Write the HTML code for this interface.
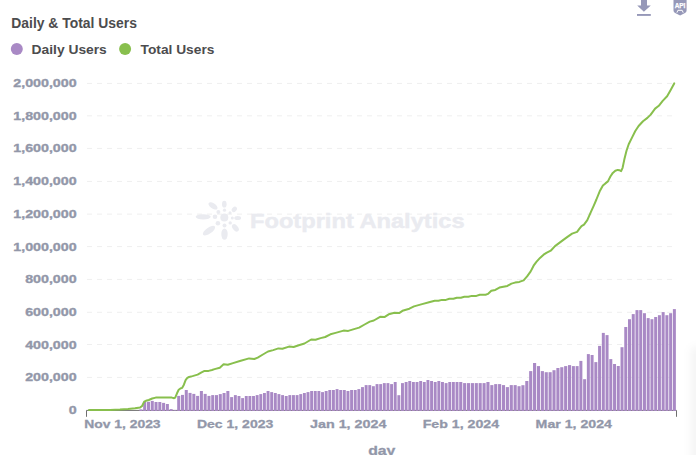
<!DOCTYPE html>
<html><head><meta charset="utf-8"><title>Daily &amp; Total Users</title>
<style>html,body{margin:0;padding:0;background:#fff;overflow:hidden}svg{display:block}text{font-family:"Liberation Sans",Arial,Helvetica,sans-serif;font-weight:bold}</style></head><body>
<svg width="696" height="455" viewBox="0 0 696 455">
<defs><linearGradient id="sh" x1="0" x2="1" y1="0" y2="0"><stop offset="0" stop-color="#000" stop-opacity="0"/><stop offset="1" stop-color="#000" stop-opacity="0.035"/></linearGradient><filter id="bl" x="-100%" y="-20%" width="300%" height="140%"><feGaussianBlur stdDeviation="4.5"/></filter></defs>
<rect width="696" height="455" fill="#fff"/>
<rect x="691" y="347" width="40" height="150" rx="4" fill="#000" fill-opacity="0.045" filter="url(#bl)"/>
<text x="11.3" y="27.9" font-size="14" fill="#4c4c4e" textLength="125.6" lengthAdjust="spacingAndGlyphs">Daily &amp; Total Users</text>
<circle cx="16.8" cy="49" r="6" fill="#a989c5"/>
<text x="31.6" y="54.4" font-size="13.3" fill="#4c4c4e" textLength="75.2" lengthAdjust="spacingAndGlyphs">Daily Users</text>
<circle cx="125.1" cy="49" r="6" fill="#88bf4d"/>
<text x="140.6" y="54.4" font-size="13.3" fill="#4c4c4e" textLength="73.8" lengthAdjust="spacingAndGlyphs">Total Users</text>
<g fill="#9698b8"><path d="M641 -2H647V5.5H650.8L643.9 11.8L637.2 5.5H641Z"/><rect x="637" y="14" width="13.8" height="1.9"/>
<path d="M673.5 -2H686.6V10.6Q686.6 12.3 685 13L680.1 15.5L675.1 13Q673.5 12.3 673.5 10.6Z"/></g>
<text x="674.7" y="8.1" font-size="7" fill="#fff" stroke="#fff" stroke-width="0.25" textLength="10.7" lengthAdjust="spacingAndGlyphs">API</text>
<path d="M676.9 12.7L677.9 10.3H682.2L683.2 12.7" fill="none" stroke="#fff" stroke-width="1"/>
<text transform="translate(76.6 414.45) scale(1.25 1)" text-anchor="end" font-size="11.4" fill="#9297a9" stroke="#9297a9" stroke-width="0.35">0</text>
<line x1="87" x2="677" y1="377.4" y2="377.4" stroke="#efefef" stroke-width="1" stroke-dasharray="5 5"/>
<text transform="translate(76.6 381.45) scale(1.25 1)" text-anchor="end" font-size="11.4" fill="#9297a9" stroke="#9297a9" stroke-width="0.35">200,000</text>
<line x1="87" x2="677" y1="344.5" y2="344.5" stroke="#efefef" stroke-width="1" stroke-dasharray="5 5"/>
<text transform="translate(76.6 348.55) scale(1.25 1)" text-anchor="end" font-size="11.4" fill="#9297a9" stroke="#9297a9" stroke-width="0.35">400,000</text>
<line x1="87" x2="677" y1="312.3" y2="312.3" stroke="#efefef" stroke-width="1" stroke-dasharray="5 5"/>
<text transform="translate(76.6 316.35) scale(1.25 1)" text-anchor="end" font-size="11.4" fill="#9297a9" stroke="#9297a9" stroke-width="0.35">600,000</text>
<line x1="87" x2="677" y1="279.4" y2="279.4" stroke="#efefef" stroke-width="1" stroke-dasharray="5 5"/>
<text transform="translate(76.6 283.45) scale(1.25 1)" text-anchor="end" font-size="11.4" fill="#9297a9" stroke="#9297a9" stroke-width="0.35">800,000</text>
<line x1="87" x2="677" y1="246.6" y2="246.6" stroke="#efefef" stroke-width="1" stroke-dasharray="5 5"/>
<text transform="translate(76.6 250.65) scale(1.25 1)" text-anchor="end" font-size="11.4" fill="#9297a9" stroke="#9297a9" stroke-width="0.35">1,000,000</text>
<line x1="87" x2="677" y1="214.1" y2="214.1" stroke="#efefef" stroke-width="1" stroke-dasharray="5 5"/>
<text transform="translate(76.6 218.15) scale(1.25 1)" text-anchor="end" font-size="11.4" fill="#9297a9" stroke="#9297a9" stroke-width="0.35">1,200,000</text>
<line x1="87" x2="677" y1="181.4" y2="181.4" stroke="#efefef" stroke-width="1" stroke-dasharray="5 5"/>
<text transform="translate(76.6 185.45) scale(1.25 1)" text-anchor="end" font-size="11.4" fill="#9297a9" stroke="#9297a9" stroke-width="0.35">1,400,000</text>
<line x1="87" x2="677" y1="148.4" y2="148.4" stroke="#efefef" stroke-width="1" stroke-dasharray="5 5"/>
<text transform="translate(76.6 152.45) scale(1.25 1)" text-anchor="end" font-size="11.4" fill="#9297a9" stroke="#9297a9" stroke-width="0.35">1,600,000</text>
<line x1="87" x2="677" y1="115.8" y2="115.8" stroke="#efefef" stroke-width="1" stroke-dasharray="5 5"/>
<text transform="translate(76.6 119.85) scale(1.25 1)" text-anchor="end" font-size="11.4" fill="#9297a9" stroke="#9297a9" stroke-width="0.35">1,800,000</text>
<line x1="87" x2="677" y1="83.4" y2="83.4" stroke="#efefef" stroke-width="1" stroke-dasharray="5 5"/>
<text transform="translate(76.6 87.45) scale(1.25 1)" text-anchor="end" font-size="11.4" fill="#9297a9" stroke="#9297a9" stroke-width="0.35">2,000,000</text>
<g fill="#eaebf0">
<circle cx="224.3" cy="217.4" r="4"/>
<circle cx="224.5" cy="210.2" r="1.6"/>
<circle cx="230" cy="212.8" r="1.5"/>
<circle cx="232.3" cy="218" r="1.5"/>
<circle cx="230.2" cy="222.9" r="1.7"/>
<circle cx="224.5" cy="225.5" r="2"/>
<circle cx="217.9" cy="223.2" r="2.3"/>
<circle cx="215" cy="216.8" r="2.3"/>
<circle cx="218.4" cy="212" r="2"/>
<ellipse cx="224.3" cy="204.2" rx="2.3" ry="3.4" transform="rotate(0 224.3 204.2)"/>
<ellipse cx="234.3" cy="209.4" rx="2.2" ry="3" transform="rotate(45 234.3 209.4)"/>
<ellipse cx="237.7" cy="218" rx="3.4" ry="2" transform="rotate(0 237.7 218)"/>
<ellipse cx="235.4" cy="227.8" rx="2.6" ry="4.3" transform="rotate(-40 235.4 227.8)"/>
<ellipse cx="224.5" cy="234.1" rx="3.2" ry="5.7" transform="rotate(0 224.5 234.1)"/>
<ellipse cx="209" cy="230.6" rx="7.2" ry="3" transform="rotate(-35 209 230.6)"/>
<ellipse cx="203.2" cy="216.8" rx="7.5" ry="2.6" transform="rotate(0 203.2 216.8)"/>
<ellipse cx="213" cy="205.9" rx="5.2" ry="2.7" transform="rotate(35 213 205.9)"/>
<text x="250" y="228.3" font-size="19.3" stroke="#eaebf0" stroke-width="0.4" textLength="214.6" lengthAdjust="spacingAndGlyphs">Footprint Analytics</text>
</g>
<path d="M86.5 416.8V410.4H676.5V416.8" fill="none" stroke="#6f6f6f" stroke-width="1"/>
<g fill="#a989c5">
<rect x="139.40" y="409.4" width="3.02" height="1.55"/>
<rect x="143.18" y="401.8" width="3.02" height="9.15"/>
<rect x="146.96" y="401.8" width="3.02" height="9.15"/>
<rect x="150.74" y="400.9" width="3.02" height="10.05"/>
<rect x="154.52" y="402.0" width="3.02" height="8.95"/>
<rect x="158.30" y="402.0" width="3.02" height="8.95"/>
<rect x="162.08" y="402.9" width="3.02" height="8.05"/>
<rect x="165.86" y="404.0" width="3.02" height="6.95"/>
<rect x="169.64" y="409.1" width="3.02" height="1.85"/>
<rect x="173.42" y="410.2" width="3.02" height="0.75"/>
<rect x="177.20" y="395.9" width="3.02" height="15.05"/>
<rect x="180.98" y="394.9" width="3.02" height="16.05"/>
<rect x="184.76" y="390.0" width="3.02" height="20.95"/>
<rect x="188.54" y="392.9" width="3.02" height="18.05"/>
<rect x="192.32" y="393.9" width="3.02" height="17.05"/>
<rect x="196.10" y="395.9" width="3.02" height="15.05"/>
<rect x="199.88" y="391.0" width="3.02" height="19.95"/>
<rect x="203.66" y="393.9" width="3.02" height="17.05"/>
<rect x="207.44" y="395.9" width="3.02" height="15.05"/>
<rect x="211.22" y="395.1" width="3.02" height="15.85"/>
<rect x="215.00" y="395.1" width="3.02" height="15.85"/>
<rect x="218.78" y="394.1" width="3.02" height="16.85"/>
<rect x="222.56" y="393.0" width="3.02" height="17.95"/>
<rect x="226.34" y="391.0" width="3.02" height="19.95"/>
<rect x="230.12" y="397.1" width="3.02" height="13.85"/>
<rect x="233.90" y="395.1" width="2.91" height="15.85"/>
<rect x="237.53" y="396.0" width="2.91" height="14.95"/>
<rect x="241.16" y="398.1" width="2.91" height="12.85"/>
<rect x="244.80" y="396.0" width="2.91" height="14.95"/>
<rect x="248.43" y="396.0" width="2.91" height="14.95"/>
<rect x="252.06" y="396.0" width="2.91" height="14.95"/>
<rect x="255.69" y="395.1" width="2.91" height="15.85"/>
<rect x="259.32" y="394.1" width="2.91" height="16.85"/>
<rect x="262.96" y="393.0" width="2.91" height="17.95"/>
<rect x="266.59" y="391.0" width="2.91" height="19.95"/>
<rect x="270.22" y="392.1" width="2.91" height="18.85"/>
<rect x="273.85" y="393.0" width="2.91" height="17.95"/>
<rect x="277.48" y="394.1" width="2.91" height="16.85"/>
<rect x="281.12" y="395.1" width="2.91" height="15.85"/>
<rect x="284.75" y="396.0" width="2.91" height="14.95"/>
<rect x="288.38" y="395.1" width="2.91" height="15.85"/>
<rect x="292.01" y="395.1" width="2.91" height="15.85"/>
<rect x="295.64" y="395.1" width="2.91" height="15.85"/>
<rect x="299.28" y="394.1" width="2.91" height="16.85"/>
<rect x="302.91" y="393.0" width="2.91" height="17.95"/>
<rect x="306.54" y="392.1" width="2.91" height="18.85"/>
<rect x="310.17" y="391.0" width="2.91" height="19.95"/>
<rect x="313.80" y="391.0" width="2.91" height="19.95"/>
<rect x="317.44" y="391.0" width="2.91" height="19.95"/>
<rect x="321.07" y="392.1" width="2.91" height="18.85"/>
<rect x="324.70" y="391.0" width="2.91" height="19.95"/>
<rect x="328.33" y="390.0" width="2.91" height="20.95"/>
<rect x="331.96" y="390.0" width="2.91" height="20.95"/>
<rect x="335.60" y="389.1" width="2.91" height="21.85"/>
<rect x="339.23" y="390.0" width="2.91" height="20.95"/>
<rect x="342.86" y="390.0" width="2.91" height="20.95"/>
<rect x="346.50" y="391.0" width="2.91" height="19.95"/>
<rect x="350.13" y="390.0" width="2.91" height="20.95"/>
<rect x="353.77" y="390.0" width="2.91" height="20.95"/>
<rect x="357.40" y="389.1" width="2.91" height="21.85"/>
<rect x="361.04" y="387.1" width="2.91" height="23.85"/>
<rect x="364.68" y="385.1" width="2.91" height="25.85"/>
<rect x="368.31" y="385.1" width="2.91" height="25.85"/>
<rect x="371.94" y="386.2" width="2.91" height="24.75"/>
<rect x="375.58" y="384.1" width="2.91" height="26.85"/>
<rect x="379.21" y="384.1" width="2.91" height="26.85"/>
<rect x="382.85" y="383.1" width="2.91" height="27.85"/>
<rect x="386.49" y="383.1" width="2.91" height="27.85"/>
<rect x="390.12" y="384.1" width="2.91" height="26.85"/>
<rect x="393.75" y="382.0" width="2.91" height="28.95"/>
<rect x="397.39" y="395.2" width="2.91" height="15.75"/>
<rect x="401.02" y="383.1" width="2.91" height="27.85"/>
<rect x="404.66" y="382.0" width="2.91" height="28.95"/>
<rect x="408.30" y="381.0" width="2.91" height="29.95"/>
<rect x="411.93" y="382.0" width="2.91" height="28.95"/>
<rect x="415.56" y="382.0" width="2.91" height="28.95"/>
<rect x="419.20" y="381.0" width="2.91" height="29.95"/>
<rect x="422.83" y="382.0" width="2.91" height="28.95"/>
<rect x="426.47" y="380.0" width="2.91" height="30.95"/>
<rect x="430.11" y="381.0" width="2.91" height="29.95"/>
<rect x="433.74" y="382.0" width="2.91" height="28.95"/>
<rect x="437.38" y="381.0" width="2.91" height="29.95"/>
<rect x="441.01" y="382.0" width="2.91" height="28.95"/>
<rect x="444.64" y="383.1" width="2.91" height="27.85"/>
<rect x="448.28" y="382.0" width="2.91" height="28.95"/>
<rect x="451.91" y="382.0" width="2.91" height="28.95"/>
<rect x="455.55" y="382.0" width="2.91" height="28.95"/>
<rect x="459.20" y="382.0" width="3.11" height="28.95"/>
<rect x="463.09" y="383.1" width="3.11" height="27.85"/>
<rect x="466.97" y="383.1" width="3.11" height="27.85"/>
<rect x="470.86" y="383.1" width="3.11" height="27.85"/>
<rect x="474.74" y="383.1" width="3.11" height="27.85"/>
<rect x="478.63" y="383.1" width="3.11" height="27.85"/>
<rect x="482.52" y="383.1" width="3.11" height="27.85"/>
<rect x="486.40" y="382.0" width="3.11" height="28.95"/>
<rect x="490.29" y="385.1" width="3.11" height="25.85"/>
<rect x="494.17" y="384.1" width="3.11" height="26.85"/>
<rect x="498.06" y="384.1" width="3.11" height="26.85"/>
<rect x="501.95" y="385.1" width="3.11" height="25.85"/>
<rect x="505.83" y="387.1" width="3.11" height="23.85"/>
<rect x="509.72" y="385.1" width="3.11" height="25.85"/>
<rect x="513.60" y="385.1" width="3.11" height="25.85"/>
<rect x="517.49" y="386.2" width="3.11" height="24.75"/>
<rect x="521.38" y="385.2" width="3.11" height="25.75"/>
<rect x="525.26" y="381.0" width="3.11" height="29.95"/>
<rect x="529.15" y="371.1" width="3.11" height="39.85"/>
<rect x="533.03" y="363.0" width="3.11" height="47.95"/>
<rect x="536.92" y="366.1" width="3.11" height="44.85"/>
<rect x="540.81" y="371.1" width="3.11" height="39.85"/>
<rect x="544.69" y="372.2" width="3.11" height="38.75"/>
<rect x="548.58" y="372.2" width="3.11" height="38.75"/>
<rect x="552.46" y="370.2" width="3.11" height="40.75"/>
<rect x="556.35" y="368.0" width="3.11" height="42.95"/>
<rect x="560.24" y="367.2" width="3.11" height="43.75"/>
<rect x="564.12" y="366.1" width="3.11" height="44.85"/>
<rect x="568.01" y="365.1" width="3.11" height="45.85"/>
<rect x="571.90" y="366.1" width="2.99" height="44.85"/>
<rect x="575.64" y="366.1" width="2.99" height="44.85"/>
<rect x="579.38" y="360.9" width="2.99" height="50.05"/>
<rect x="583.12" y="379.2" width="2.99" height="31.75"/>
<rect x="586.86" y="354.1" width="2.99" height="56.85"/>
<rect x="590.60" y="355.0" width="2.99" height="55.95"/>
<rect x="594.34" y="362.1" width="2.99" height="48.85"/>
<rect x="598.08" y="345.9" width="2.99" height="65.05"/>
<rect x="601.82" y="332.9" width="2.99" height="78.05"/>
<rect x="605.56" y="335.1" width="2.99" height="75.85"/>
<rect x="609.30" y="359.1" width="2.99" height="51.85"/>
<rect x="613.04" y="364.0" width="2.99" height="46.95"/>
<rect x="616.78" y="366.0" width="2.99" height="44.95"/>
<rect x="620.52" y="347.2" width="2.99" height="63.75"/>
<rect x="624.26" y="327.0" width="2.99" height="83.95"/>
<rect x="628.00" y="319.2" width="2.99" height="91.75"/>
<rect x="631.74" y="314.1" width="2.99" height="96.85"/>
<rect x="635.48" y="310.1" width="2.99" height="100.85"/>
<rect x="639.22" y="310.1" width="2.99" height="100.85"/>
<rect x="642.96" y="313.2" width="2.99" height="97.75"/>
<rect x="646.70" y="318.1" width="2.99" height="92.85"/>
<rect x="650.44" y="319.2" width="2.99" height="91.75"/>
<rect x="654.18" y="317.0" width="2.99" height="93.95"/>
<rect x="657.92" y="315.2" width="2.99" height="95.75"/>
<rect x="661.66" y="312.1" width="2.99" height="98.85"/>
<rect x="665.40" y="315.2" width="2.99" height="95.75"/>
<rect x="669.14" y="313.2" width="2.99" height="97.75"/>
<rect x="672.88" y="309.1" width="2.99" height="101.85"/>
</g>
<path d="M89.0 409.9 L110.0 409.9 L120.0 409.6 L128.0 409.0 L135.0 408.3 L140.2 407.4 L142.1 406.0 L144.2 401.6 L145.9 400.8 L148.8 400.0 L152.2 398.5 L155.7 397.6 L161.4 397.6 L171.8 397.6 L174.1 398.2 L175.2 397.6 L177.0 393.3 L178.7 389.7 L180.4 388.5 L182.1 387.9 L183.9 384.7 L185.6 380.1 L187.3 377.8 L189.0 377.0 L192.5 376.1 L197.6 374.6 L201.1 372.6 L204.5 370.9 L208.6 370.9 L212.0 370.0 L214.6 369.1 L219.8 367.7 L223.6 364.3 L227.8 364.8 L233.0 363.1 L239.9 361.0 L249.1 358.4 L254.3 359.0 L257.7 357.6 L262.9 354.5 L268.0 351.5 L273.2 350.1 L278.4 348.4 L282.4 348.7 L289.0 346.6 L293.6 347.0 L298.8 345.2 L304.5 343.5 L311.2 339.5 L315.5 339.8 L320.6 338.1 L325.2 337.0 L330.4 334.3 L335.6 332.9 L343.6 330.6 L348.2 330.9 L354.0 329.1 L359.1 327.6 L364.6 324.5 L369.8 321.6 L373.8 320.5 L380.1 316.8 L384.4 317.1 L388.7 314.3 L394.5 312.8 L399.1 313.1 L402.5 310.8 L409.4 308.7 L414.0 306.4 L422.1 304.1 L429.0 302.2 L434.7 300.8 L438.4 300.8 L441.9 299.9 L445.9 299.9 L449.4 298.7 L453.4 298.7 L456.8 297.7 L460.9 297.7 L464.3 296.8 L468.3 296.8 L471.8 295.9 L476.4 295.9 L479.8 294.7 L485.6 294.7 L487.9 293.9 L491.3 290.8 L495.3 289.9 L499.4 287.6 L507.4 285.9 L511.4 283.6 L515.0 282.6 L519.3 281.9 L523.6 280.4 L527.1 276.4 L530.7 271.4 L533.6 265.7 L536.4 261.9 L540.0 257.9 L543.6 254.7 L546.4 252.9 L550.7 250.7 L555.0 246.1 L560.0 242.4 L567.1 237.1 L572.1 233.6 L577.1 231.9 L579.1 229.2 L581.5 226.2 L584.0 224.7 L587.3 220.1 L590.6 212.7 L593.9 205.3 L596.4 199.5 L599.7 191.3 L602.9 185.5 L605.4 183.4 L607.9 181.4 L610.4 176.5 L612.8 172.9 L615.3 170.7 L617.8 169.9 L619.4 170.2 L621.1 171.1 L622.6 167.8 L624.3 159.6 L626.5 150.8 L628.7 144.2 L632.0 137.6 L635.3 131.0 L638.6 126.0 L643.0 121.2 L647.4 117.9 L650.7 114.6 L655.1 108.6 L658.8 105.8 L662.7 100.9 L667.1 96.3 L670.4 90.4 L674.2 83.4" fill="none" stroke="#88bf4d" stroke-width="2" stroke-linejoin="round" stroke-linecap="round"/>
<text x="84.2" y="427.8" font-size="11.4" fill="#9297a9" stroke="#9297a9" stroke-width="0.3" textLength="76.4" lengthAdjust="spacingAndGlyphs">Nov 1, 2023</text>
<text x="196.9" y="427.8" font-size="11.4" fill="#9297a9" stroke="#9297a9" stroke-width="0.3" textLength="76.4" lengthAdjust="spacingAndGlyphs">Dec 1, 2023</text>
<text x="310.0" y="427.8" font-size="11.4" fill="#9297a9" stroke="#9297a9" stroke-width="0.3" textLength="76.4" lengthAdjust="spacingAndGlyphs">Jan 1, 2024</text>
<text x="422.7" y="427.8" font-size="11.4" fill="#9297a9" stroke="#9297a9" stroke-width="0.3" textLength="76.4" lengthAdjust="spacingAndGlyphs">Feb 1, 2024</text>
<text x="535.6" y="427.8" font-size="11.4" fill="#9297a9" stroke="#9297a9" stroke-width="0.3" textLength="76.4" lengthAdjust="spacingAndGlyphs">Mar 1, 2024</text>
<text x="368.2" y="455.3" font-size="13" fill="#9297a9" stroke="#9297a9" stroke-width="0.3" textLength="27.2" lengthAdjust="spacingAndGlyphs">day</text>
</svg></body></html>
